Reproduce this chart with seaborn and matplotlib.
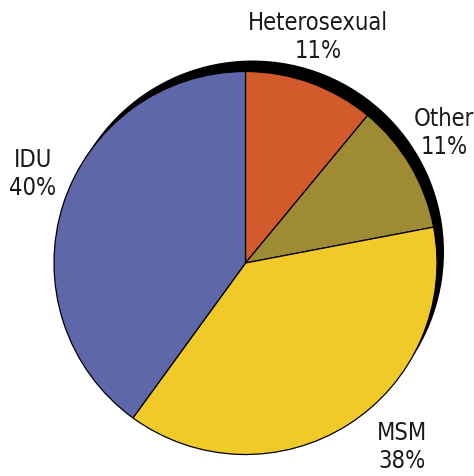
#Import the libraries
import matplotlib
matplotlib.use('Agg')
import matplotlib.pyplot as plt
from matplotlib import font_manager
import seaborn as sns

#Chart data
groups = ['Heterosexual', 'Other', 'MSM', 'IDU']
shares = [11, 11, 38, 40]
colors = ['#D35A2B', '#A08B35', '#F0CA28', '#5E67A9']

#Style - set font after the theme
sns.set_theme(style='white')

#look for a narrow face; fall back to a smaller regular one
font_kw = dict(family=['DejaVu Sans'], fontsize=14.5)
for fam, stretch in [('Liberation Sans Narrow', 'normal'),
                     ('DejaVu Sans', 'condensed')]:
    try:
        path = font_manager.findfont(font_manager.FontProperties(family=fam, stretch=stretch),
                                     fallback_to_default=False)
    except Exception:
        continue
    if 'Narrow' in path or 'Condensed' in path:
        font_kw = dict(family=[fam, 'DejaVu Sans'], fontstretch=stretch, fontsize=17)
        break
plt.rcParams['font.family'] = font_kw['family']

W, H = 474, 476
fig = plt.figure(figsize=(W / 100, H / 100), dpi=100)
ax = fig.add_axes([0, 0, 1, 1])

#pie centre and radius in pixel units (y measured from bottom)
cx, cy, r = 245.5, H - 263, 191.5

#black drop shadow behind the pie
ax.pie([1], colors=['black'], radius=r, center=(cx + 7, cy + 11),
       wedgeprops=dict(linewidth=0), frame=True)

#the pie itself, clockwise from 12 o'clock
ax.pie(shares, colors=sns.color_palette(colors), radius=r, center=(cx, cy),
       startangle=90, counterclock=False,
       wedgeprops=dict(edgecolor='black', linewidth=0.9), frame=True)

#labels (pixel positions of the text centres)
label_pos = {'Heterosexual': (318, 37), 'Other': (444, 133),
             'MSM': (402, 447), 'IDU': (33, 174)}
for g, s in zip(groups, shares):
    x, y = label_pos[g]
    ax.text(x, H - y, f'{g}\n{s}%', ha='center', va='center',
            linespacing=1.25, color='#1a1a1a', **font_kw)

ax.set_xlim(0, W)
ax.set_ylim(0, H)
ax.set_aspect('equal')
ax.axis('off')

fig.savefig('out.png', dpi=100)
